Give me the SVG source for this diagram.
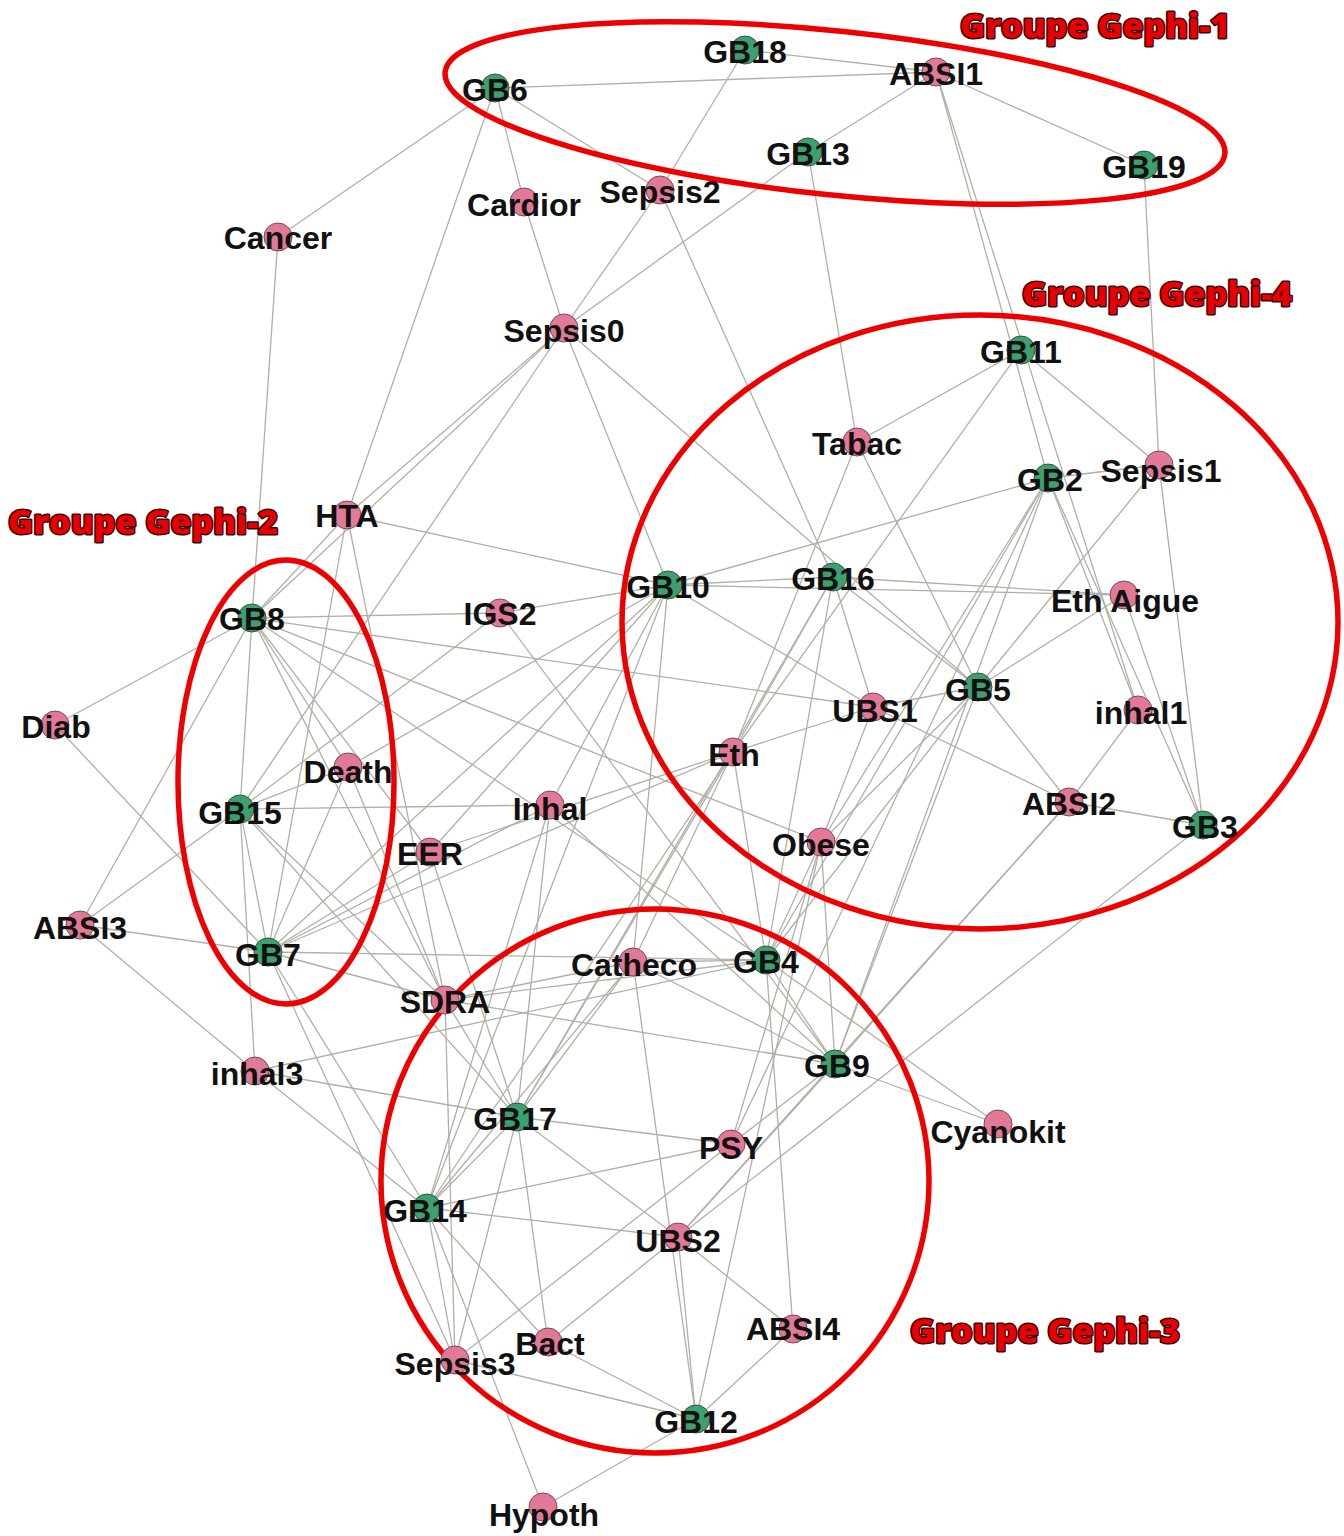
<svg xmlns="http://www.w3.org/2000/svg" width="1344" height="1536" viewBox="0 0 1344 1536">
<style>
.e{stroke:#b0b0a6;stroke-width:1.3;fill:none}
.grp{fill:none;stroke:#ee0000;stroke-width:5.5}
.g{fill:#3fa06f;stroke:#2f5a44;stroke-width:1}
.p{fill:#e27a97;stroke:#7a4a55;stroke-width:1}
.t{font-family:'Liberation Sans',Arial,sans-serif;font-weight:bold;font-size:32px;text-anchor:middle;fill:#111}
.gl{font-family:'Open Sans','DejaVu Sans',sans-serif;font-weight:800;font-size:34px;fill:#e60000;stroke:#3a0000;stroke-width:3;paint-order:stroke;stroke-linejoin:round}
</style>
<rect width="1344" height="1536" fill="#ffffff"/>
<g id="connectors">
<line class="e" x1="495" y1="88" x2="936" y2="72"/>
<line class="e" x1="745" y1="50" x2="936" y2="72"/>
<line class="e" x1="745" y1="50" x2="660" y2="190"/>
<line class="e" x1="495" y1="88" x2="660" y2="190"/>
<line class="e" x1="495" y1="88" x2="524" y2="202"/>
<line class="e" x1="495" y1="88" x2="278" y2="237"/>
<line class="e" x1="495" y1="88" x2="347" y2="515"/>
<line class="e" x1="936" y1="72" x2="808" y2="152"/>
<line class="e" x1="936" y1="72" x2="1144" y2="165"/>
<line class="e" x1="936" y1="72" x2="1048" y2="478"/>
<line class="e" x1="936" y1="72" x2="1138" y2="710"/>
<line class="e" x1="808" y1="152" x2="564" y2="328"/>
<line class="e" x1="808" y1="152" x2="857" y2="442"/>
<line class="e" x1="660" y1="190" x2="564" y2="328"/>
<line class="e" x1="524" y1="202" x2="564" y2="328"/>
<line class="e" x1="660" y1="190" x2="833" y2="577"/>
<line class="e" x1="1144" y1="165" x2="1159" y2="465"/>
<line class="e" x1="278" y1="237" x2="252" y2="618"/>
<line class="e" x1="564" y1="328" x2="347" y2="515"/>
<line class="e" x1="564" y1="328" x2="252" y2="618"/>
<line class="e" x1="564" y1="328" x2="240" y2="809"/>
<line class="e" x1="564" y1="328" x2="668" y2="585"/>
<line class="e" x1="564" y1="328" x2="978" y2="687"/>
<line class="e" x1="1021" y1="350" x2="857" y2="442"/>
<line class="e" x1="1021" y1="350" x2="1159" y2="465"/>
<line class="e" x1="1021" y1="350" x2="733" y2="752"/>
<line class="e" x1="857" y1="442" x2="733" y2="752"/>
<line class="e" x1="857" y1="442" x2="978" y2="687"/>
<line class="e" x1="1048" y1="478" x2="1159" y2="465"/>
<line class="e" x1="1048" y1="478" x2="668" y2="585"/>
<line class="e" x1="1048" y1="478" x2="821" y2="842"/>
<line class="e" x1="1048" y1="478" x2="766" y2="960"/>
<line class="e" x1="1048" y1="478" x2="731" y2="1144"/>
<line class="e" x1="1048" y1="478" x2="835" y2="1064"/>
<line class="e" x1="1048" y1="478" x2="1138" y2="710"/>
<line class="e" x1="1048" y1="478" x2="1203" y2="825"/>
<line class="e" x1="1159" y1="465" x2="1203" y2="825"/>
<line class="e" x1="1159" y1="465" x2="978" y2="687"/>
<line class="e" x1="833" y1="577" x2="1124" y2="595"/>
<line class="e" x1="668" y1="585" x2="1124" y2="595"/>
<line class="e" x1="1124" y1="595" x2="978" y2="687"/>
<line class="e" x1="1124" y1="595" x2="1203" y2="825"/>
<line class="e" x1="978" y1="687" x2="873" y2="707"/>
<line class="e" x1="833" y1="577" x2="978" y2="687"/>
<line class="e" x1="668" y1="585" x2="873" y2="707"/>
<line class="e" x1="978" y1="687" x2="1069" y2="802"/>
<line class="e" x1="978" y1="687" x2="766" y2="960"/>
<line class="e" x1="978" y1="687" x2="835" y2="1064"/>
<line class="e" x1="978" y1="687" x2="821" y2="842"/>
<line class="e" x1="833" y1="577" x2="873" y2="707"/>
<line class="e" x1="873" y1="707" x2="733" y2="752"/>
<line class="e" x1="873" y1="707" x2="1069" y2="802"/>
<line class="e" x1="873" y1="707" x2="821" y2="842"/>
<line class="e" x1="668" y1="585" x2="833" y2="577"/>
<line class="e" x1="833" y1="577" x2="733" y2="752"/>
<line class="e" x1="833" y1="577" x2="766" y2="960"/>
<line class="e" x1="833" y1="577" x2="517" y2="1117"/>
<line class="e" x1="347" y1="515" x2="668" y2="585"/>
<line class="e" x1="500" y1="613" x2="668" y2="585"/>
<line class="e" x1="252" y1="618" x2="500" y2="613"/>
<line class="e" x1="1138" y1="710" x2="1069" y2="802"/>
<line class="e" x1="1069" y1="802" x2="1203" y2="825"/>
<line class="e" x1="1069" y1="802" x2="678" y2="1237"/>
<line class="e" x1="1069" y1="802" x2="835" y2="1064"/>
<line class="e" x1="1203" y1="825" x2="678" y2="1237"/>
<line class="e" x1="835" y1="1064" x2="998" y2="1124"/>
<line class="e" x1="766" y1="960" x2="998" y2="1124"/>
<line class="e" x1="835" y1="1064" x2="678" y2="1237"/>
<line class="e" x1="835" y1="1064" x2="633" y2="962"/>
<line class="e" x1="835" y1="1064" x2="445" y2="1000"/>
<line class="e" x1="835" y1="1064" x2="766" y2="960"/>
<line class="e" x1="835" y1="1064" x2="821" y2="842"/>
<line class="e" x1="835" y1="1064" x2="731" y2="1144"/>
<line class="e" x1="766" y1="960" x2="633" y2="962"/>
<line class="e" x1="766" y1="960" x2="268" y2="952"/>
<line class="e" x1="766" y1="960" x2="733" y2="752"/>
<line class="e" x1="766" y1="960" x2="821" y2="842"/>
<line class="e" x1="766" y1="960" x2="793" y2="1329"/>
<line class="e" x1="766" y1="960" x2="445" y2="1000"/>
<line class="e" x1="766" y1="960" x2="252" y2="618"/>
<line class="e" x1="766" y1="960" x2="255" y2="1071"/>
<line class="e" x1="731" y1="1144" x2="517" y2="1117"/>
<line class="e" x1="731" y1="1144" x2="427" y2="1208"/>
<line class="e" x1="731" y1="1144" x2="455" y2="1360"/>
<line class="e" x1="731" y1="1144" x2="821" y2="842"/>
<line class="e" x1="678" y1="1237" x2="517" y2="1117"/>
<line class="e" x1="678" y1="1237" x2="548" y2="1342"/>
<line class="e" x1="678" y1="1237" x2="696" y2="1419"/>
<line class="e" x1="678" y1="1237" x2="793" y2="1329"/>
<line class="e" x1="678" y1="1237" x2="427" y2="1208"/>
<line class="e" x1="696" y1="1419" x2="633" y2="962"/>
<line class="e" x1="696" y1="1419" x2="821" y2="842"/>
<line class="e" x1="696" y1="1419" x2="793" y2="1329"/>
<line class="e" x1="696" y1="1419" x2="548" y2="1342"/>
<line class="e" x1="696" y1="1419" x2="455" y2="1360"/>
<line class="e" x1="696" y1="1419" x2="543" y2="1507"/>
<line class="e" x1="55" y1="725" x2="252" y2="618"/>
<line class="e" x1="55" y1="725" x2="268" y2="952"/>
<line class="e" x1="80" y1="925" x2="252" y2="618"/>
<line class="e" x1="80" y1="925" x2="240" y2="809"/>
<line class="e" x1="80" y1="925" x2="268" y2="952"/>
<line class="e" x1="80" y1="925" x2="255" y2="1071"/>
<line class="e" x1="348" y1="767" x2="252" y2="618"/>
<line class="e" x1="348" y1="767" x2="240" y2="809"/>
<line class="e" x1="348" y1="767" x2="268" y2="952"/>
<line class="e" x1="348" y1="767" x2="445" y2="1000"/>
<line class="e" x1="348" y1="767" x2="668" y2="585"/>
<line class="e" x1="240" y1="809" x2="252" y2="618"/>
<line class="e" x1="240" y1="809" x2="268" y2="952"/>
<line class="e" x1="240" y1="809" x2="550" y2="805"/>
<line class="e" x1="240" y1="809" x2="445" y2="1000"/>
<line class="e" x1="240" y1="809" x2="517" y2="1117"/>
<line class="e" x1="240" y1="809" x2="255" y2="1071"/>
<line class="e" x1="240" y1="809" x2="500" y2="613"/>
<line class="e" x1="268" y1="952" x2="550" y2="805"/>
<line class="e" x1="268" y1="952" x2="733" y2="752"/>
<line class="e" x1="268" y1="952" x2="668" y2="585"/>
<line class="e" x1="268" y1="952" x2="445" y2="1000"/>
<line class="e" x1="268" y1="952" x2="427" y2="1208"/>
<line class="e" x1="268" y1="952" x2="455" y2="1360"/>
<line class="e" x1="268" y1="952" x2="347" y2="515"/>
<line class="e" x1="268" y1="952" x2="430" y2="852"/>
<line class="e" x1="347" y1="515" x2="252" y2="618"/>
<line class="e" x1="347" y1="515" x2="445" y2="1000"/>
<line class="e" x1="430" y1="852" x2="733" y2="752"/>
<line class="e" x1="430" y1="852" x2="517" y2="1117"/>
<line class="e" x1="430" y1="852" x2="668" y2="585"/>
<line class="e" x1="430" y1="852" x2="252" y2="618"/>
<line class="e" x1="550" y1="805" x2="668" y2="585"/>
<line class="e" x1="550" y1="805" x2="517" y2="1117"/>
<line class="e" x1="550" y1="805" x2="427" y2="1208"/>
<line class="e" x1="550" y1="805" x2="835" y2="1064"/>
<line class="e" x1="500" y1="613" x2="835" y2="1064"/>
<line class="e" x1="633" y1="962" x2="445" y2="1000"/>
<line class="e" x1="633" y1="962" x2="668" y2="585"/>
<line class="e" x1="633" y1="962" x2="427" y2="1208"/>
<line class="e" x1="633" y1="962" x2="517" y2="1117"/>
<line class="e" x1="633" y1="962" x2="733" y2="752"/>
<line class="e" x1="427" y1="1208" x2="733" y2="752"/>
<line class="e" x1="427" y1="1208" x2="668" y2="585"/>
<line class="e" x1="427" y1="1208" x2="517" y2="1117"/>
<line class="e" x1="427" y1="1208" x2="255" y2="1071"/>
<line class="e" x1="427" y1="1208" x2="455" y2="1360"/>
<line class="e" x1="427" y1="1208" x2="548" y2="1342"/>
<line class="e" x1="427" y1="1208" x2="543" y2="1507"/>
<line class="e" x1="517" y1="1117" x2="445" y2="1000"/>
<line class="e" x1="517" y1="1117" x2="548" y2="1342"/>
<line class="e" x1="517" y1="1117" x2="255" y2="1071"/>
<line class="e" x1="517" y1="1117" x2="733" y2="752"/>
<line class="e" x1="517" y1="1117" x2="455" y2="1360"/>
<line class="e" x1="455" y1="1360" x2="445" y2="1000"/>
<line class="e" x1="252" y1="618" x2="445" y2="1000"/>
<line class="e" x1="252" y1="618" x2="821" y2="842"/>
<line class="e" x1="252" y1="618" x2="873" y2="707"/>
</g>
<g id="groups">
<ellipse class="grp" cx="835" cy="113" rx="392" ry="82" transform="rotate(6 835 113)"/>
<ellipse class="grp" cx="286" cy="782" rx="108" ry="222"/>
<ellipse class="grp" cx="655" cy="1181" rx="274" ry="272"/>
<ellipse class="grp" cx="980" cy="622" rx="358" ry="307"/>
<text class="gl" x="960" y="38">Groupe Gephi-1</text>
<text class="gl" x="8" y="534">Groupe Gephi-2</text>
<text class="gl" x="910" y="1343">Groupe Gephi-3</text>
<text class="gl" x="1022" y="306">Groupe Gephi-4</text>
</g>
<g id="n-GB18"><circle class="g" cx="745" cy="50" r="14"/><text class="t" x="745" y="63">GB18</text></g>
<g id="n-ABSI1"><circle class="p" cx="936" cy="72" r="14"/><text class="t" x="936" y="85">ABSI1</text></g>
<g id="n-GB6"><circle class="g" cx="495" cy="88" r="14"/><text class="t" x="495" y="101">GB6</text></g>
<g id="n-GB13"><circle class="g" cx="808" cy="152" r="14"/><text class="t" x="808" y="165">GB13</text></g>
<g id="n-GB19"><circle class="g" cx="1144" cy="165" r="14"/><text class="t" x="1144" y="178">GB19</text></g>
<g id="n-Sepsis2"><circle class="p" cx="660" cy="190" r="14"/><text class="t" x="660" y="203">Sepsis2</text></g>
<g id="n-Cardior"><circle class="p" cx="524" cy="202" r="14"/><text class="t" x="524" y="216">Cardior</text></g>
<g id="n-Cancer"><circle class="p" cx="278" cy="237" r="14"/><text class="t" x="278" y="249">Cancer</text></g>
<g id="n-Sepsis0"><circle class="p" cx="564" cy="328" r="14"/><text class="t" x="564" y="342">Sepsis0</text></g>
<g id="n-GB11"><circle class="g" cx="1021" cy="350" r="14"/><text class="t" x="1021" y="363">GB11</text></g>
<g id="n-Tabac"><circle class="p" cx="857" cy="442" r="14"/><text class="t" x="857" y="455">Tabac</text></g>
<g id="n-Sepsis1"><circle class="p" cx="1159" cy="465" r="14"/><text class="t" x="1161" y="482">Sepsis1</text></g>
<g id="n-GB2"><circle class="g" cx="1048" cy="478" r="14"/><text class="t" x="1050" y="491">GB2</text></g>
<g id="n-HTA"><circle class="p" cx="347" cy="515" r="14"/><text class="t" x="347" y="527">HTA</text></g>
<g id="n-GB16"><circle class="g" cx="833" cy="577" r="14"/><text class="t" x="833" y="590">GB16</text></g>
<g id="n-GB10"><circle class="g" cx="668" cy="585" r="14"/><text class="t" x="668" y="598">GB10</text></g>
<g id="n-EthAigue"><circle class="p" cx="1124" cy="595" r="14"/><text class="t" x="1125" y="612">Eth Aigue</text></g>
<g id="n-IGS2"><circle class="p" cx="500" cy="613" r="14"/><text class="t" x="500" y="625">IGS2</text></g>
<g id="n-GB8"><circle class="g" cx="252" cy="618" r="14"/><text class="t" x="252" y="630">GB8</text></g>
<g id="n-GB5"><circle class="g" cx="978" cy="687" r="14"/><text class="t" x="978" y="701">GB5</text></g>
<g id="n-UBS1"><circle class="p" cx="873" cy="707" r="14"/><text class="t" x="875" y="722">UBS1</text></g>
<g id="n-inhal1"><circle class="p" cx="1138" cy="710" r="14"/><text class="t" x="1141" y="724">inhal1</text></g>
<g id="n-Diab"><circle class="p" cx="55" cy="725" r="14"/><text class="t" x="56" y="738">Diab</text></g>
<g id="n-Eth"><circle class="p" cx="733" cy="752" r="14"/><text class="t" x="734" y="766">Eth</text></g>
<g id="n-Death"><circle class="p" cx="348" cy="767" r="14"/><text class="t" x="348" y="783">Death</text></g>
<g id="n-ABSI2"><circle class="p" cx="1069" cy="802" r="14"/><text class="t" x="1069" y="815">ABSI2</text></g>
<g id="n-Inhal"><circle class="p" cx="550" cy="805" r="14"/><text class="t" x="550" y="820">Inhal</text></g>
<g id="n-GB15"><circle class="g" cx="240" cy="809" r="14"/><text class="t" x="240" y="824">GB15</text></g>
<g id="n-GB3"><circle class="g" cx="1203" cy="825" r="14"/><text class="t" x="1205" y="838">GB3</text></g>
<g id="n-Obese"><circle class="p" cx="821" cy="842" r="14"/><text class="t" x="821" y="856">Obese</text></g>
<g id="n-EER"><circle class="p" cx="430" cy="852" r="14"/><text class="t" x="430" y="865">EER</text></g>
<g id="n-ABSI3"><circle class="p" cx="80" cy="925" r="14"/><text class="t" x="80" y="939">ABSI3</text></g>
<g id="n-GB7"><circle class="g" cx="268" cy="952" r="14"/><text class="t" x="268" y="966">GB7</text></g>
<g id="n-GB4"><circle class="g" cx="766" cy="960" r="14"/><text class="t" x="766" y="973">GB4</text></g>
<g id="n-Catheco"><circle class="p" cx="633" cy="962" r="14"/><text class="t" x="634" y="976">Catheco</text></g>
<g id="n-SDRA"><circle class="p" cx="445" cy="1000" r="14"/><text class="t" x="445" y="1013">SDRA</text></g>
<g id="n-GB9"><circle class="g" cx="835" cy="1064" r="14"/><text class="t" x="837" y="1077">GB9</text></g>
<g id="n-inhal3"><circle class="p" cx="255" cy="1071" r="14"/><text class="t" x="257" y="1085">inhal3</text></g>
<g id="n-GB17"><circle class="g" cx="517" cy="1117" r="14"/><text class="t" x="515" y="1130">GB17</text></g>
<g id="n-Cyanokit"><circle class="p" cx="998" cy="1124" r="14"/><text class="t" x="998" y="1143">Cyanokit</text></g>
<g id="n-PSY"><circle class="p" cx="731" cy="1144" r="14"/><text class="t" x="731" y="1159">PSY</text></g>
<g id="n-GB14"><circle class="g" cx="427" cy="1208" r="14"/><text class="t" x="425" y="1222">GB14</text></g>
<g id="n-UBS2"><circle class="p" cx="678" cy="1237" r="14"/><text class="t" x="678" y="1252">UBS2</text></g>
<g id="n-ABSI4"><circle class="p" cx="793" cy="1329" r="14"/><text class="t" x="793" y="1340">ABSI4</text></g>
<g id="n-Bact"><circle class="p" cx="548" cy="1342" r="14"/><text class="t" x="550" y="1355">Bact</text></g>
<g id="n-Sepsis3"><circle class="p" cx="455" cy="1360" r="14"/><text class="t" x="455" y="1375">Sepsis3</text></g>
<g id="n-GB12"><circle class="g" cx="696" cy="1419" r="14"/><text class="t" x="696" y="1433">GB12</text></g>
<g id="n-Hypoth"><circle class="p" cx="543" cy="1507" r="14"/><text class="t" x="544" y="1526">Hypoth</text></g>
</svg>
